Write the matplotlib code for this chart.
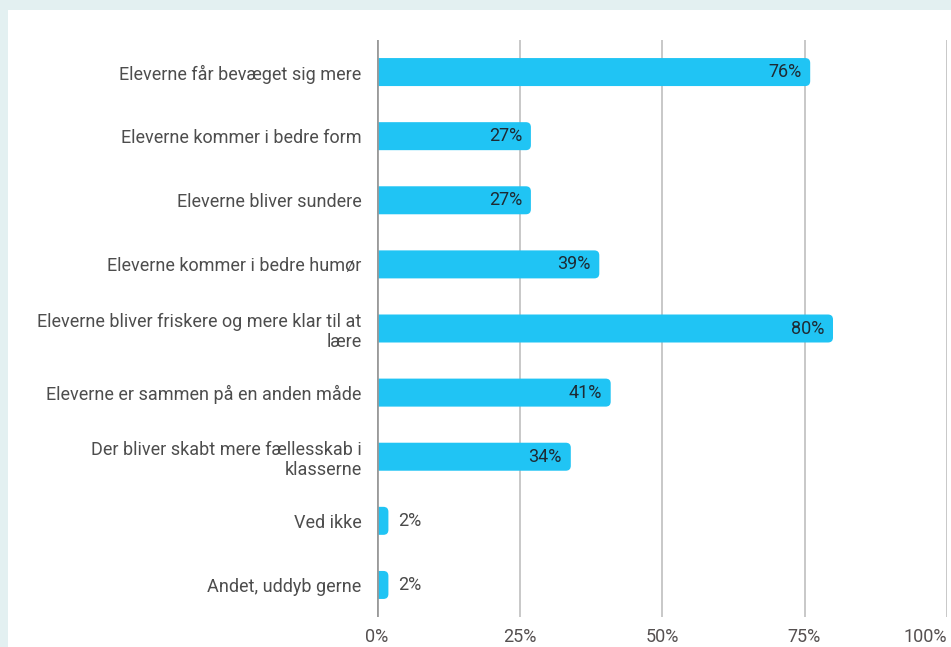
import matplotlib
matplotlib.use('Agg')
import matplotlib.pyplot as plt
from matplotlib.patches import FancyBboxPatch, Rectangle

# data
categories = [
    'Eleverne får bevæget sig mere',
    'Eleverne kommer i bedre form',
    'Eleverne bliver sundere',
    'Eleverne kommer i bedre humør',
    'Eleverne bliver friskere og mere klar til at\nlære',
    'Eleverne er sammen på en anden måde',
    'Der bliver skabt mere fællesskab i\nklasserne',
    'Ved ikke',
    'Andet, uddyb gerne',
]
values = [76, 27, 27, 39, 80, 41, 34, 2, 2]
xticks = [0, 25, 50, 75, 100]
xticklabels = ['0%', '25%', '50%', '75%', '100%']

BAR = '#20c4f4'
W, H = 951, 647

plt.rcParams['font.family'] = ['Roboto', 'DejaVu Sans']

fig = plt.figure(figsize=(W / 100, H / 100), dpi=100)
fig.patch.set_facecolor('#e3f0f1')
fig.add_artist(Rectangle((8 / W, 0), 1, 1 - 10 / H, transform=fig.transFigure,
                         facecolor='white', edgecolor='none', zorder=0))

ax = fig.add_axes([377 / W, 1 - 617 / H, 570 / W, 577 / H])
ax.set_facecolor('none')
ax.set_xlim(0, 100)
ax.set_ylim(len(values) - 0.5, -0.5)

# px per unit, for rounding aspect
px_x = 570 / 100
px_y = 577 / len(values)
bh = 28 / px_y
rad = 5 / px_x

for i, v in enumerate(values):
    p = FancyBboxPatch((-3, i - bh / 2), v + 3, bh,
                       boxstyle='round,pad=0,rounding_size=%f' % rad,
                       mutation_aspect=px_x / px_y,
                       facecolor=BAR, edgecolor='none', zorder=2)
    ax.add_patch(p)
    if v >= 10:
        ax.text(v - 9 / px_x, i, '%d%%' % v, ha='right', va='center',
                fontsize=13, color='#1e2a33', zorder=3)
    else:
        ax.text(v + 10 / px_x, i, '%d%%' % v, ha='left', va='center',
                fontsize=13, color='#4a4a4a', zorder=3)

for x in xticks[1:]:
    ax.axvline(x, color='#c4c4c4', lw=1.3, zorder=1)
ax.axvline(0, color='#9a9a9a', lw=2, zorder=3)

ax.set_xticks(xticks)
ax.set_xticklabels(xticklabels)
ax.get_xticklabels()[-1].set_horizontalalignment('right')
ax.set_yticks(range(len(categories)))
ax.set_yticklabels(categories, ha='right', linespacing=1.15)
ax.tick_params(length=0)
ax.tick_params(axis='x', pad=8, labelsize=13, labelcolor='#555050')
ax.tick_params(axis='y', pad=11, labelsize=13, labelcolor='#4d4d4d')
for s in ax.spines.values():
    s.set_visible(False)

fig.savefig('out.png', dpi=100, facecolor=fig.get_facecolor())
